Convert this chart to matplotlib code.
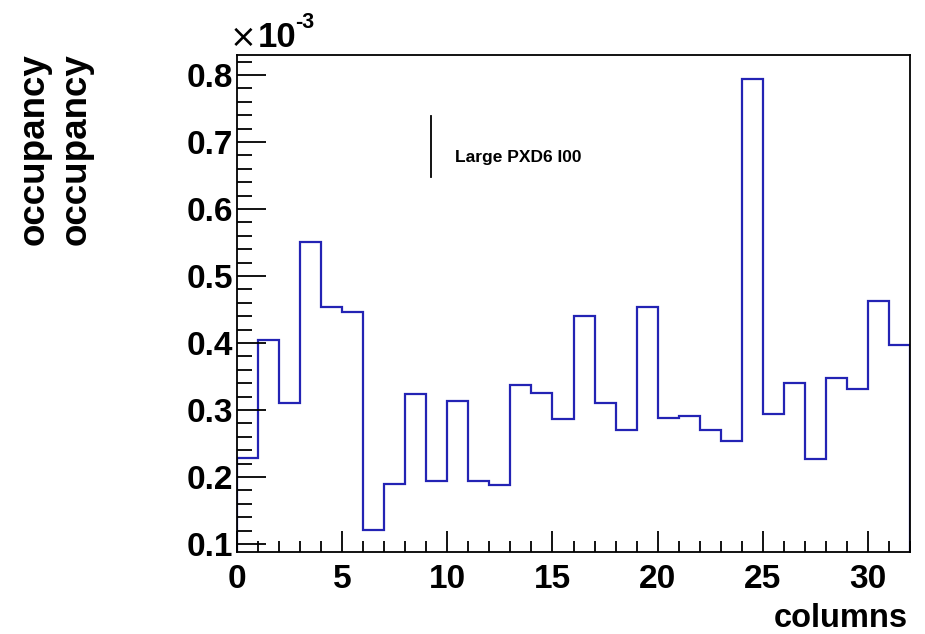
import numpy as np
import matplotlib
matplotlib.use("Agg")
from matplotlib import pyplot as plt
from matplotlib.ticker import MultipleLocator

plt.rcParams['font.family'] = ['Liberation Sans', 'DejaVu Sans']
plt.rcParams['font.weight'] = 'bold'

# occupancy per column, in units of 1e-3
bin_edges = np.arange(0, 33)
occupancy = [0.229, 0.405, 0.310, 0.551, 0.454, 0.446, 0.121, 0.189,
             0.324, 0.194, 0.313, 0.194, 0.188, 0.337, 0.326, 0.286,
             0.440, 0.311, 0.270, 0.454, 0.288, 0.291, 0.270, 0.254,
             0.794, 0.294, 0.340, 0.227, 0.348, 0.332, 0.463, 0.397]
legend_label = "Large PXD6 I00"

W, H = 925, 634
fig = plt.figure(figsize=(W / 100, H / 100), dpi=100)
ax = fig.add_axes([237 / W, 1 - 552 / H, (910 - 237) / W, (552 - 55) / H])

ax.stairs(occupancy, bin_edges, color='#2323b4', linewidth=1.6)

ax.set_xlim(0, 32)
ax.set_ylim(0.088, 0.83)
ax.xaxis.set_major_locator(MultipleLocator(5))
ax.xaxis.set_minor_locator(MultipleLocator(1))
ax.yaxis.set_minor_locator(MultipleLocator(0.02))
ax.set_yticks([0.1, 0.2, 0.3, 0.4, 0.5, 0.6, 0.7, 0.8])
ax.set_yticklabels(['0.1', '0.2', '0.3', '0.4', '0.5', '0.6', '0.7', '0.8'])
ax.tick_params(which='both', direction='in', top=False, right=False,
               labelsize=24, width=1.3)
ax.tick_params(axis='x', which='major', length=15, pad=9)
ax.tick_params(axis='x', which='minor', length=8)
ax.tick_params(axis='y', which='major', length=21, pad=3)
ax.tick_params(axis='y', which='minor', length=11)
for s in ax.spines.values():
    s.set_linewidth(1.3)

# axis titles, ROOT style
fig.text(908 / W, 1 - 627 / H, "columns", ha='right', va='baseline', fontsize=23.5)
fig.text(34 / W, 1 - 53 / H, "occupancy", rotation=90, ha='center', va='top', fontsize=26.5)
fig.text(76 / W, 1 - 53 / H, "occupancy", rotation=90, ha='center', va='top', fontsize=26.5)

# exponent for the y axis
fig.text(230 / W, 1 - 47 / H, "\u00d7", ha='left', va='baseline', fontsize=23,
         fontweight='normal', family='DejaVu Sans')
fig.text(258 / W, 1 - 47 / H, "10", ha='left', va='baseline', fontsize=25)
fig.text(295 / W, 1 - 28 / H, "-3", ha='left', va='baseline', fontsize=15.5)

# legend entry: vertical error-bar marker and label
ax.plot([0.288, 0.288], [0.7545, 0.877], transform=ax.transAxes,
        color='black', linewidth=1.3)
ax.text(0.324, 0.793, legend_label, transform=ax.transAxes,
        ha='left', va='center', fontsize=12.5)

fig.savefig("out.png", dpi=100)
